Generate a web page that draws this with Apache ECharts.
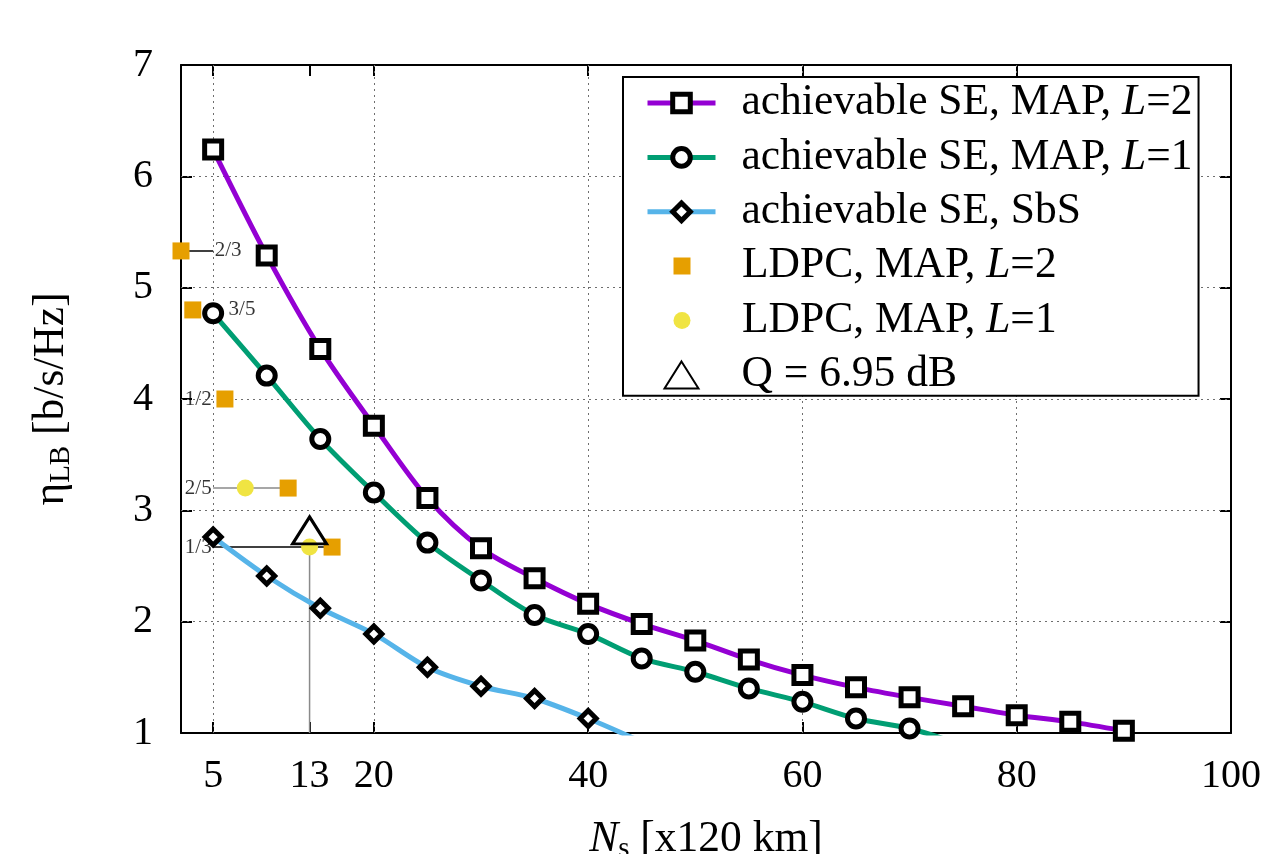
<!DOCTYPE html>
<html>
<head>
<meta charset="utf-8">
<script src="https://cdn.jsdelivr.net/npm/echarts@6/dist/echarts.min.js"></script>
<style>
  html, body { margin: 0; padding: 0; background: #fff; }
  #chart { width: 1265px; height: 854px; }
</style>
</head>
<body>
<div id="chart"></div>
<script>
// Number of spans N_s (one span = 120 km)
const nsValues = [5, 10, 15, 20, 25, 30, 35, 40, 45, 50, 55, 60, 65, 70, 75, 80, 85, 90];

// Achievable spectral efficiency eta_LB [b/s/Hz]
const seMapL2 = [6.24, 5.29, 4.45, 3.76, 3.11, 2.66, 2.39, 2.16, 1.98, 1.83, 1.66, 1.52, 1.41, 1.32, 1.24, 1.16, 1.10, 1.02];
const seMapL1 = [4.77, 4.21, 3.64, 3.16, 2.71, 2.37, 2.06, 1.89, 1.67, 1.55, 1.40, 1.28, 1.13, 1.04];
const seSbS   = [2.76, 2.41, 2.12, 1.89, 1.59, 1.42, 1.31, 1.13];
// where the curves continue below the plotted range
const seMapL1Tail = [75, 0.89];
const seSbSTail   = [45, 0.92];

// LDPC coded results
const ldpcL2Ns  = [2.0, 3.1, 6.1, 12.0, 16.1];
const ldpcL2Eta = [5.33, 4.80, 4.00, 3.20, 2.67];
const ldpcL1Ns  = [8.0, 14.0];
const ldpcL1Eta = [3.20, 2.67];
const qNs  = [14.0];
const qEta = [2.82];

// code rate annotations
const codeRates   = ['2/3', '3/5', '1/2', '2/5', '1/3'];
const codeRateNs  = [5, 6.3, 5, 5, 5];
const codeRateEta = [5.33, 4.80, 4.00, 3.20, 2.67];

// leader lines tying rates to points
const leadersBlack = [[[2.0, 5.33], [5, 5.33]], [[5, 2.67], [16.1, 2.67]]];
const leadersGray  = [[[5, 3.20], [12.0, 3.20]], [[14.0, 2.67], [14.0, 1]]];

// axes
const xTickValues = [5, 14, 20, 40, 60, 80, 100];
const xTickLabels = ['5', '13', '20', '40', '60', '80', '100'];
const xGridValues = [5, 20, 40, 60, 80];
const yGridValues = [2, 3, 4, 5, 6];

const names = {
  l2: 'achievable SE, MAP, L=2',
  l1: 'achievable SE, MAP, L=1',
  sbs: 'achievable SE, SbS',
  ldpc2: 'LDPC, MAP, L=2',
  ldpc1: 'LDPC, MAP, L=1',
  q: 'Q = 6.95 dB'
};

const FONT = "'Liberation Serif', 'Times New Roman', serif";
const BLACK = '#000';
const ORANGE = '#e69f00';
const YELLOW = '#f0e442';

function curve(name, values, color, symbol, size, tail) {
  const data = values.map((v, i) => [nsValues[i], v]);
  if (tail) data.push({ value: tail, symbol: 'none' });
  return {
    name, type: 'line', data, z: 3,
    smooth: 0.3, symbol, symbolSize: size, showAllSymbol: true,
    lineStyle: { color, width: 5 },
    itemStyle: { color: '#fff', borderColor: BLACK, borderWidth: 5 },
    emphasis: { disabled: true }, silent: true
  };
}

function points(name, xs, ys, symbol, size, itemStyle) {
  return {
    name, type: 'scatter', z: 4, clip: false,
    data: xs.map((x, i) => [x, ys[i]]),
    symbol, symbolSize: size, itemStyle: Object.assign({ opacity: 1 }, itemStyle),
    emphasis: { disabled: true }, silent: true
  };
}

function leader(seg, color) {
  return {
    type: 'line', data: seg, z: 2, symbol: 'none', silent: true,
    lineStyle: { color, width: 1.5 }, emphasis: { disabled: true }
  };
}

function legendText(name) {
  const m = name.match(/^(.*)L(=\d)$/);
  return m ? '{n|' + m[1] + '}{i|L}{n|' + m[2] + '}' : '{n|' + name + '}';
}

const LEGEND_FS = 43.5;
const legendTextStyle = {
  fontFamily: FONT, fontSize: LEGEND_FS, color: BLACK, lineHeight: 44,
  padding: [0, 0, 0, 21],
  rich: {
    n: { fontFamily: FONT, fontSize: LEGEND_FS, color: BLACK, lineHeight: 44 },
    i: { fontFamily: FONT, fontSize: LEGEND_FS, color: BLACK, fontStyle: 'italic', lineHeight: 44 }
  }
};

const series = [
  // dotted grid
  {
    type: 'scatter', data: [], silent: true,
    markLine: {
      z: 1, silent: true, symbol: 'none', label: { show: false },
      lineStyle: { color: '#6e6e6e', type: [2, 4], width: 1 },
      emphasis: { disabled: true },
      data: xGridValues.map(v => ({ xAxis: v })).concat(yGridValues.map(v => ({ yAxis: v })))
    }
  },
  ...leadersBlack.map(s => leader(s, BLACK)),
  ...leadersGray.map(s => leader(s, '#8a8a8a')),
  curve(names.l2, seMapL2, '#9400d3', 'rect', 17),
  curve(names.l1, seMapL1, '#009e73', 'circle', 17, seMapL1Tail),
  curve(names.sbs, seSbS, '#56b4e9', 'diamond', 16, seSbSTail),
  points(names.ldpc2, ldpcL2Ns, ldpcL2Eta, 'rect', 17, { color: ORANGE }),
  points(names.ldpc1, ldpcL1Ns, ldpcL1Eta, 'circle', 17, { color: YELLOW }),
  points(names.q, qNs, qEta, 'triangle', [34, 27],
    { color: 'rgba(0,0,0,0)', borderColor: BLACK, borderWidth: 3 }),
  {
    type: 'scatter', z: 4, clip: false, silent: true,
    symbol: 'circle', symbolSize: 1, itemStyle: { color: 'rgba(0,0,0,0)' },
    data: codeRates.map((r, i) => ({
      value: [codeRateNs[i], codeRateEta[i]],
      label: { position: (i < 2 ? 'right' : 'left') }
    })),
    label: {
      show: true, distance: 1,
      formatter: p => codeRates[p.dataIndex],
      fontFamily: FONT, fontSize: 21, color: BLACK
    },
    emphasis: { disabled: true }
  }
];

const axisLine = { show: true, onZero: false, lineStyle: { color: BLACK, width: 2 } };
const tickStyle = { color: BLACK, width: 2 };
const NAME_FS = 43.5;

const option = {
  animation: false,
  backgroundColor: '#fff',
  grid: { left: 181, right: 34, top: 65, bottom: 121, outerBoundsMode: 'none' },
  xAxis: [
    {
      type: 'value', position: 'bottom', min: 2, max: 100,
      axisLine,
      axisTick: { inside: true, length: 11, customValues: xTickValues, lineStyle: tickStyle },
      axisLabel: {
        customValues: xTickValues, margin: 23,
        formatter: v => xTickLabels[xTickValues.indexOf(v)],
        fontFamily: FONT, fontSize: 40, color: BLACK
      },
      splitLine: { show: false },
      name: '{i|N}{s|s}{t| [x120 km]}',
      nameLocation: 'middle', nameGap: 82, nameMoveOverlap: false,
      nameTextStyle: {
        fontFamily: FONT, fontSize: NAME_FS, color: BLACK,
        rich: {
          i: { fontFamily: FONT, fontSize: NAME_FS, fontStyle: 'italic', color: BLACK },
          s: { fontFamily: FONT, fontSize: 29, color: BLACK, padding: [20, 0, 0, 0] },
          t: { fontFamily: FONT, fontSize: NAME_FS, color: BLACK }
        }
      }
    },
    {
      type: 'value', position: 'top', min: 2, max: 100,
      axisLine,
      axisTick: { inside: true, length: 11, customValues: xTickValues, lineStyle: tickStyle },
      axisLabel: { show: false },
      splitLine: { show: false }
    }
  ],
  yAxis: [
    {
      type: 'value', position: 'left', min: 1, max: 7, interval: 1,
      axisLine,
      axisTick: { inside: true, length: 11, lineStyle: tickStyle },
      axisLabel: { margin: 28, fontFamily: FONT, fontSize: 40, color: BLACK },
      splitLine: { show: false },
      name: '{g|η}{s|LB}{t| [b/s/Hz]}',
      nameLocation: 'middle', nameGap: 105, nameRotate: 90, nameMoveOverlap: false,
      nameTextStyle: {
        fontFamily: FONT, fontSize: NAME_FS, color: BLACK,
        rich: {
          g: { fontFamily: FONT, fontSize: NAME_FS, color: BLACK },
          s: { fontFamily: FONT, fontSize: 29, color: BLACK, padding: [20, 0, 0, 0] },
          t: { fontFamily: FONT, fontSize: NAME_FS, color: BLACK }
        }
      }
    },
    {
      type: 'value', position: 'right', min: 1, max: 7, interval: 1,
      axisLine,
      axisTick: { inside: true, length: 11, lineStyle: tickStyle },
      axisLabel: { show: false },
      splitLine: { show: false }
    }
  ],
  legend: [
    {
      z: 10, orient: 'vertical', left: 623, top: 77,
      padding: [4, 6, 162, 22],
      itemWidth: 68, itemHeight: 22, itemGap: 10.4,
      backgroundColor: '#fff', borderColor: BLACK, borderWidth: 2,
      selectedMode: false,
      lineStyle: { width: 5 },
      itemStyle: { borderWidth: 5, borderColor: BLACK, color: '#fff' },
      data: [names.l2, names.l1, names.sbs],
      formatter: legendText, textStyle: legendTextStyle
    },
    {
      z: 11, orient: 'vertical', left: 673.5, top: 244, padding: 0,
      itemWidth: 68, itemHeight: 17, itemGap: 10.4,
      selectedMode: false,
      data: [
        { name: names.ldpc2, icon: 'path://M0,0L1,0L1,1L0,1Z', itemStyle: { color: ORANGE, opacity: 1 } },
        { name: names.ldpc1, icon: 'circle', itemStyle: { color: YELLOW, opacity: 1 } }
      ],
      formatter: legendText, textStyle: legendTextStyle
    },
    {
      z: 11, orient: 'vertical', left: 663.5, top: 353, padding: 0,
      itemWidth: 68, itemHeight: 27,
      selectedMode: false,
      data: [{ name: names.q, icon: 'path://M17,0L34,27L0,27Z' }],
      formatter: legendText, textStyle: legendTextStyle
    }
  ],
  series
};

const chart = echarts.init(document.getElementById('chart'), null, { renderer: 'canvas' });
chart.setOption(option);
</script>
</body>
</html>
